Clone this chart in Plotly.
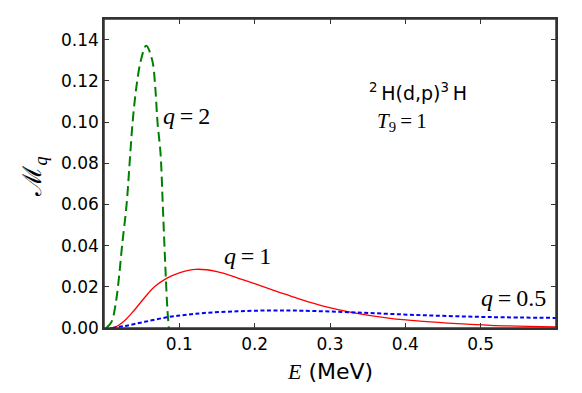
import plotly.graph_objects as go

# q = 2 (green dashed)
E_q2 = [0.003, 0.010, 0.016, 0.020, 0.024, 0.030, 0.034, 0.038, 0.043, 0.049,
        0.056, 0.064, 0.068, 0.071, 0.075, 0.078, 0.080, 0.082, 0.084, 0.086]
M_q2 = [0.000, 0.003, 0.013, 0.025, 0.040, 0.060, 0.080, 0.100, 0.117, 0.130,
        0.137, 0.130, 0.117, 0.100, 0.085, 0.060, 0.042, 0.025, 0.010, 0.000]

# q = 1 (red solid)
E_q1 = [0.008, 0.015, 0.028, 0.041, 0.054, 0.067, 0.083, 0.100, 0.122, 0.150,
        0.176, 0.200, 0.228, 0.247, 0.263, 0.291, 0.330, 0.380, 0.424, 0.469,
        0.513, 0.600]
M_q1 = [0.0000, 0.0005, 0.0038, 0.0090, 0.0148, 0.0200, 0.0241, 0.0268, 0.0285, 0.0274,
        0.0245, 0.0215, 0.0179, 0.0156, 0.0136, 0.0106, 0.0075, 0.0047, 0.0032, 0.0021,
        0.0013, 0.0005]

# q = 0.5 (blue dotted)
E_q05 = [0.011, 0.028, 0.054, 0.085, 0.107, 0.133, 0.176, 0.220, 0.263, 0.336,
         0.424, 0.513, 0.600]
M_q05 = [0.0000, 0.0010, 0.0030, 0.0053, 0.0063, 0.0073, 0.0081, 0.0085, 0.0084, 0.0075,
         0.0062, 0.0053, 0.0049]

x_ticks = [0.1, 0.2, 0.3, 0.4, 0.5]
y_ticks = [0.00, 0.02, 0.04, 0.06, 0.08, 0.10, 0.12, 0.14]

SERIF = "Liberation Serif"
SANS = "DejaVu Sans"
TS = "\u2009"  # thin space
AX = "#333333"

fig = go.Figure()
fig.add_trace(go.Scatter(x=E_q2, y=M_q2, mode="lines", line_shape="spline",
                         line=dict(color="green", width=2, dash="10px,5px")))
fig.add_trace(go.Scatter(x=E_q1, y=M_q1, mode="lines", line_shape="spline",
                         line=dict(color="red", width=1.3)))
fig.add_trace(go.Scatter(x=E_q05, y=M_q05, mode="lines", line_shape="spline",
                         line=dict(color="blue", width=2, dash="4px,2.5px")))

axis_common = dict(showline=True, linecolor=AX, linewidth=1.5, mirror="allticks",
                   ticks="inside", ticklen=5, tickcolor=AX, showgrid=False,
                   zeroline=False, tickfont=dict(family=SANS, size=17, color="black"))
fig.update_xaxes(range=[0, 0.6], tickvals=x_ticks, ticktext=[f"{v:.1f}" for v in x_ticks],
                 **axis_common)
fig.update_yaxes(range=[0, 0.15], tickvals=y_ticks, ticktext=[f"{v:.2f}" for v in y_ticks],
                 **axis_common)

# box around the axes
fig.add_shape(type="rect", xref="paper", yref="paper", x0=0, y0=0, x1=1, y1=1,
              line=dict(color=AX, width=1.5), layer="above")

labels = [
    (0.109, 0.1028, "q", "2"),
    (0.190, 0.0348, "q", "1"),
    (0.544, 0.0144, "q", "0.5"),
]
for x, y, v, n in labels:
    fig.add_annotation(x=x, y=y, text=f"<i>{v}</i>{TS}={TS}{n}", showarrow=False,
                       font=dict(family=SERIF, size=24, color="black"))

fig.add_annotation(x=0.417, y=0.1144, showarrow=False,
                   text=f"<sup>2</sup>{TS}H(d,p)<sup>3</sup>{TS}H",
                   font=dict(family=SANS, size=19, color="black"))
fig.add_annotation(x=0.396, y=0.0999, showarrow=False,
                   text=f"<i>T</i><sub>9</sub>{TS}={TS}1",
                   font=dict(family=SERIF, size=21, color="black"))

# axis titles
fig.add_annotation(xref="paper", yref="paper", x=0.5, y=-0.095, yanchor="top",
                   showarrow=False,
                   text=f"<span style='font-family:{SERIF}'><i>E</i></span> (MeV)",
                   font=dict(family=SANS, size=22, color="black"))
fig.add_annotation(xref="paper", yref="paper", x=-0.155, y=0.49, textangle=-90,
                   xanchor="center", yanchor="middle",
                   showarrow=False, text="ℳ<sub><i>q</i></sub>",
                   font=dict(family=SERIF, size=26, color="black"))

# page body has an 8px margin, so the figure is drawn 16px smaller
fig.update_layout(
    width=566, height=377,
    margin=dict(l=96, r=18, t=9, b=57),
    paper_bgcolor="white", plot_bgcolor="white",
    showlegend=False,
)

fig.write_html("out.html")
